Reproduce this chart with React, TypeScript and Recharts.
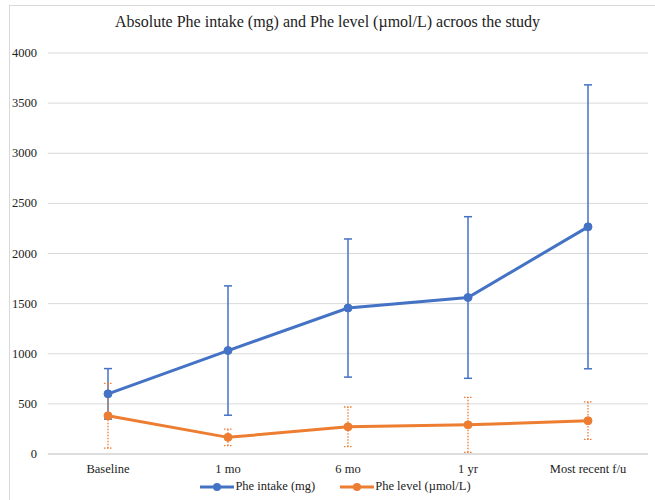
import {
  LineChart, Line, XAxis, YAxis, CartesianGrid, ErrorBar, Legend,
} from 'recharts';

const categories = ['Baseline', '1 mo', '6 mo', '1 yr', 'Most recent f/u'];
const pheIntake = [600, 1032, 1456, 1561, 2266];
const pheIntakeSd = [252, 645, 689, 806, 1416];
const pheLevel = [381, 166, 271, 291, 332];
const pheLevelSd = [323, 83, 198, 274, 187];
const yTicks = [0, 500, 1000, 1500, 2000, 2500, 3000, 3500, 4000];

const BLUE = '#4472c4';
const ORANGE = '#ed7d31';
const FONT = '"Liberation Serif", "Times New Roman", serif';

const data = categories.map((c, i) => ({
  name: c,
  intake: pheIntake[i],
  intakeErr: pheIntakeSd[i],
  level: pheLevel[i],
  levelErr: pheLevelSd[i],
}));

const legendItems = [
  { label: 'Phe intake (mg)', color: BLUE },
  { label: 'Phe level (\u00b5mol/L)', color: ORANGE },
];

const tickStyle = { fontFamily: FONT, fontSize: 12.5, fill: '#222' };

function XTick(props: any) {
  const { x, y, payload } = props;
  return (
    <text x={x} y={y + 11} textAnchor="middle" style={tickStyle}>
      {payload.value}
    </text>
  );
}

function YTick(props: any) {
  const { x, y, payload } = props;
  return (
    <text x={x} y={y + 4} textAnchor="end" style={tickStyle}>
      {payload.value}
    </text>
  );
}

function ChartLegend() {
  return (
    <div style={{ display: 'flex', justifyContent: 'center', gap: 24, paddingLeft: 22, fontFamily: FONT, fontSize: 12.5, color: '#222' }}>
      {legendItems.map((it) => (
        <div key={it.label} style={{ display: 'flex', alignItems: 'center' }}>
          <svg width={36} height={10}>
            <line x1={1} y1={5} x2={35} y2={5} stroke={it.color} strokeWidth={3} />
            <circle cx={18} cy={5} r={4} fill={it.color} />
          </svg>
          <span>{it.label}</span>
        </div>
      ))}
    </div>
  );
}

export default function App() {
  return (
    <div style={{ position: 'absolute', left: 0, top: 0, width: 655, height: 500, background: '#fff', overflow: 'hidden', fontFamily: FONT }}>
      <div style={{ position: 'absolute', left: 9, top: 5, width: 660, height: 500, border: '1px solid #d9d9d9' }} />
      <div style={{ position: 'absolute', left: 0, top: 13, width: 655, textAlign: 'center', fontSize: 16, color: '#222' }}>
        Absolute Phe intake (mg) and Phe level (µmol/L) acroos the study
      </div>
      <div style={{ position: 'absolute', left: 0, top: 0 }}>
        <LineChart
          width={655}
          height={500}
          data={data}
          margin={{ top: 53, right: 7, bottom: 1, left: 0 }}
        >
          <CartesianGrid vertical={false} stroke="#d9d9d9" />
          <XAxis
            dataKey="name"
            padding={{ left: 60, right: 60 }}
            axisLine={{ stroke: '#d9d9d9', strokeWidth: 1.5 }}
            tickLine={false}
            height={25}
            tick={<XTick />}
          />
          <YAxis
            domain={[0, 4000]}
            ticks={yTicks}
            axisLine={false}
            tickLine={false}
            width={48}
            tickMargin={5}
            tick={<YTick />}
          />
          <Legend verticalAlign="bottom" height={20} content={() => <ChartLegend />} />
          <Line
            dataKey="intake"
            name="Phe intake (mg)"
            stroke={BLUE}
            strokeWidth={3}
            dot={{ r: 4, fill: BLUE, stroke: BLUE, strokeWidth: 1 }}
            isAnimationActive={false}
          >
            <ErrorBar dataKey="intakeErr" direction="y" width={4} stroke={BLUE} strokeWidth={1.5} />
          </Line>
          <Line
            dataKey="level"
            name="Phe level (µmol/L)"
            stroke={ORANGE}
            strokeWidth={3}
            dot={{ r: 4, fill: ORANGE, stroke: ORANGE, strokeWidth: 1 }}
            isAnimationActive={false}
          >
            <ErrorBar dataKey="levelErr" direction="y" width={4} stroke={ORANGE} strokeWidth={1.3} strokeDasharray="1.5 1.5" />
          </Line>
        </LineChart>
      </div>
    </div>
  );
}
